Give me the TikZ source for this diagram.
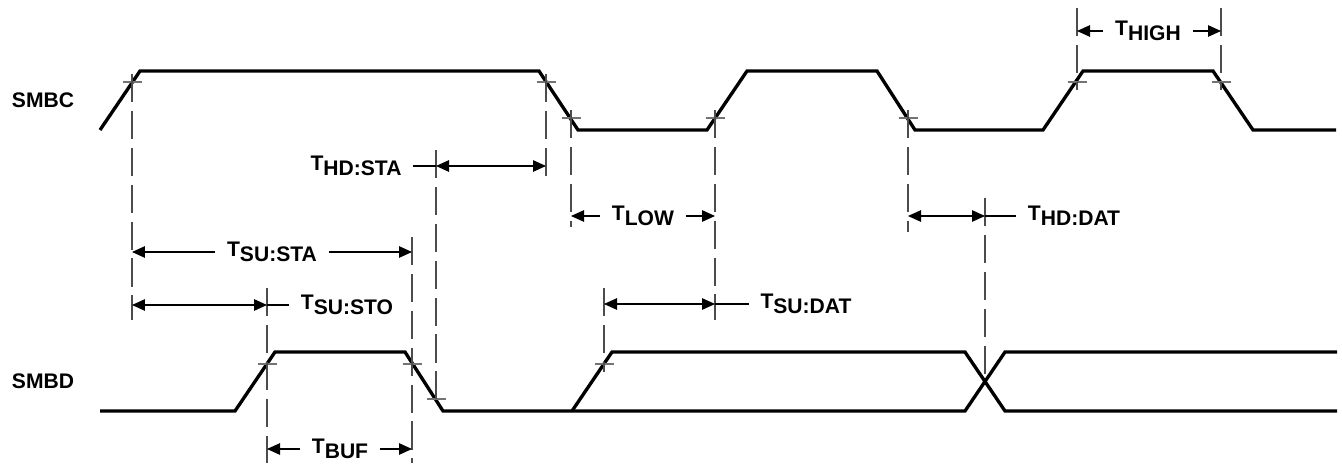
\documentclass[tikz,border=0pt]{standalone}
\usepackage{fontspec}
\setmainfont{Liberation Sans}
\usetikzlibrary{arrows.meta}
\newcommand{\tsub}[1]{T\raisebox{-.22em}{#1}}

\begin{document}
\begin{tikzpicture}[x={(0.02cm,0)}, y={(0,-0.02cm)},
  wave/.style={line width=1.9pt},
  guide/.style={draw=black!70, line width=0.6pt, dash pattern=on 16pt off 5pt},
  tickmark/.style={draw=black!55, line width=0.6pt},
  dimline/.style={line width=0.6pt},
  dim/.style={dimline, arrows={-Triangle[length=2.6mm,width=2.3mm]}},
  dimboth/.style={dimline, arrows={Triangle[length=2.6mm,width=2.3mm]-Triangle[length=2.6mm,width=2.3mm]}},
  sig/.style={font=\bfseries\fontsize{12}{14}\selectfont},
  lbl/.style={font=\bfseries\fontsize{12}{14}\selectfont, inner xsep=6.5pt, inner ysep=0pt}]
  \useasboundingbox (0,0) rectangle (1342,466);

  % edge crossing points
  \coordinate (c1) at (132,82);
  \coordinate (c2) at (546,82);
  \coordinate (c3) at (571,118);
  \coordinate (c4) at (715,118);
  \coordinate (c5) at (908,118);
  \coordinate (c6) at (1077,82);
  \coordinate (c7) at (1221,82);
  \coordinate (d1) at (267,364);
  \coordinate (d2) at (412,364);
  \coordinate (d3) at (436,399);
  \coordinate (d4) at (604,364);
  \coordinate (dx) at (985,381.5);

  % signals
  \node[sig] (smbc) at (43,100.5) {SMBC};
  \node[sig] (smbd) at (43,381) {SMBD};
  \draw[wave] (100,130) -- (140,71) -- (539,71) -- (578,130) -- (707,130) -- (747,71) -- (877,71)
    -- (915,130) -- (1043,130) -- (1083,71) -- (1213,71) -- (1253,130) -- (1336,130);
  \draw[wave] (100,411) -- (235,411) -- (275,352) -- (405,352) -- (443,411) -- (965,411)
    -- (1005,352) -- (1337,352);
  \draw[wave] (572,411) -- (612,352) -- (965,352) -- (1005,411) -- (1337,411);

  % ticks
  \foreach \p in {c1,c2,c3,c4,c5,c6,c7,d1,d2,d3,d4}
    \draw[tickmark] (\p) ++(-9.5,0) -- ++(19,0);

  % guides
  \draw[guide] (132,74) -- (132,320);
  \draw[guide] (546,74) -- (546,180);
  \draw[guide] (571,110) -- (571,227);
  \draw[guide] (715,110) -- (715,320);
  \draw[guide] (908,110) -- (908,232);
  \draw[guide] (1077,8) -- (1077,90);
  \draw[guide] (1221,8) -- (1221,90);
  \draw[guide] (985,198) -- (985,381);
  \draw[guide] (436,150) -- (436,405);
  \draw[guide] (412,237) -- (412,463);
  \draw[guide] (267,288) -- (267,463);
  \draw[guide] (604,288) -- (604,372);

  % timings
  \node[lbl] (thdsta) at (356,166) {\tsub{HD:STA}};
  \draw[dimboth] (d3 |- thdsta) -- (c2 |- thdsta);
  \draw[dimline] (thdsta.east) -- (d3 |- thdsta);

  \node[lbl] (tlow) at (643,216) {\tsub{LOW}};
  \draw[dim] (tlow.west) -- (c3 |- tlow);
  \draw[dim] (tlow.east) -- (c4 |- tlow);

  \node[lbl] (tsudat) at (806,304) {\tsub{SU:DAT}};
  \draw[dimboth] (d4 |- tsudat) -- (c4 |- tsudat);
  \draw[dimline] (c4 |- tsudat) -- (tsudat.west);

  \node[lbl] (thddat) at (1074,216) {\tsub{HD:DAT}};
  \draw[dimboth] (c5 |- thddat) -- (dx |- thddat);
  \draw[dimline] (dx |- thddat) -- (thddat.west);

  \node[lbl] (thigh) at (1148,31) {\tsub{HIGH}};
  \draw[dim] (thigh.west) -- (c6 |- thigh);
  \draw[dim] (thigh.east) -- (c7 |- thigh);

  \node[lbl] (tsusta) at (272,252) {\tsub{SU:STA}};
  \draw[dim] (tsusta.west) -- (c1 |- tsusta);
  \draw[dim] (tsusta.east) -- (d2 |- tsusta);

  \node[lbl] (tsusto) at (347,305) {\tsub{SU:STO}};
  \draw[dimboth] (c1 |- tsusto) -- (d1 |- tsusto);
  \draw[dimline] (d1 |- tsusto) -- (tsusto.west);

  \node[lbl] (tbuf) at (340,449) {\tsub{BUF}};
  \draw[dim] (tbuf.west) -- (d1 |- tbuf);
  \draw[dim] (tbuf.east) -- (d2 |- tbuf);
\end{tikzpicture}
\end{document}
